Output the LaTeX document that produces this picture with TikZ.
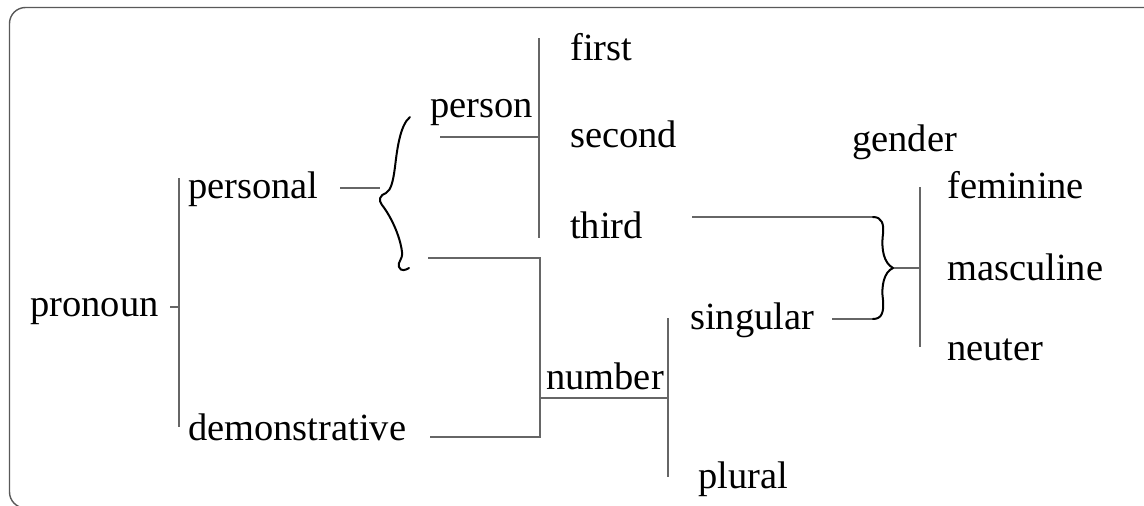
\documentclass[tikz,border=0pt]{standalone}
\usepackage{fontspec}
\setmainfont{Liberation Serif}
\begin{document}
\begin{tikzpicture}[x=1pt,y=-1pt,
  word/.style={anchor=base west,inner sep=0pt,font=\fontsize{38.5}{46}\selectfont},
  rule/.style={draw=black!60,line width=1.1pt},
  curly/.style={draw=black,line width=2pt,line cap=round,line join=round}]
\useasboundingbox (0,0) rectangle (1144,506);
% frame, running off the right and bottom edges
\begin{scope}
  \clip (0,0) rectangle (1144,506);
  \draw[draw=black!65,line width=1.4pt,rounded corners=16pt] (9.5,7.5) rectangle (1300,508);
\end{scope}

% words
\node[word] (pronoun) at (30,316) {pronoun};
\node[word] (personal) at (188,198) {personal};
\node[word] (demonstrative) at (188,440) {demonstrative};
\node[word] (person) at (430,117) {person};
\node[word] (first) at (570,60) {first};
\node[word] (second) at (570,147) {second};
\node[word] (third) at (570,238) {third};
\node[word] (number) at (546,389) {number};
\node[word] (singular) at (690,329) {singular};
\node[word] (plural) at (698,488) {plural};
\node[word] (gender) at (852,151) {gender};
\node[word] (feminine) at (947,198) {feminine};
\node[word] (masculine) at (947,280) {masculine};
\node[word] (neuter) at (947,360) {neuter};

% junction points
\coordinate (pronounTick) at (170,307);
\coordinate (kindBar) at (179,307);
\coordinate (kindTop) at (179,178);
\coordinate (kindBot) at (179,427);

\coordinate (personalOut) at (340,188);
\coordinate (personalIn) at (380,188);

\coordinate (personFrom) at (440,137);
\coordinate (personBar) at (539,137);
\coordinate (personTop) at (539,38);
\coordinate (personBot) at (539,238);

\coordinate (numFromA) at (428,258);
\coordinate (numFromB) at (430,437);
\coordinate (numBarTop) at (540,258);
\coordinate (numBarBot) at (540,437);
\coordinate (numBar) at (540,398);
\coordinate (numOut) at (668,398);
\coordinate (numTop) at (668,318);
\coordinate (numBot) at (668,477);

\coordinate (thirdOut) at (692,217);
\coordinate (thirdIn) at (873,217);
\coordinate (singOut) at (832,319);
\coordinate (singIn) at (873,319);
\coordinate (genCusp) at (893,268);
\coordinate (genBar) at (920,268);
\coordinate (genTop) at (920,187);
\coordinate (genBot) at (920,347);

% bracket rules
\draw[rule] (pronounTick) -- (kindBar);
\draw[rule] (kindTop) -- (kindBot);
\draw[rule] (personalOut) -- (personalIn);
\draw[rule] (personFrom) -- (personBar);
\draw[rule] (personTop) -- (personBot);
\draw[rule] (numFromA) -- (numBarTop) -- (numBarBot) -- (numFromB);
\draw[rule] (numBar) -- (numOut);
\draw[rule] (numTop) -- (numBot);
\draw[rule] (thirdOut) -- (thirdIn);
\draw[rule] (singOut) -- (singIn);
\draw[rule] (genCusp) -- (genBar);
\draw[rule] (genTop) -- (genBot);

% left brace joining personal to person and number
\draw[curly] (410,117) .. controls (400,125) and (397,150) .. (395,167)
  .. controls (393,182) and (391,190) .. (386,193)
  .. controls (380,195) and (378,200) .. (382,205)
  .. controls (390,215) and (400,235) .. (402,252)
  .. controls (403,260) and (397,262) .. (399,267)
  .. controls (401,272) and (406,270) .. (409,268);

% right brace gathering third and singular into gender
\draw[curly] (thirdIn) .. controls (882,217) and (884,224) .. (883,234)
  .. controls (881,250) and (884,263) .. (genCusp)
  .. controls (884,272) and (881,286) .. (883,300)
  .. controls (884,312) and (882,319) .. (singIn);
\end{tikzpicture}
\end{document}
